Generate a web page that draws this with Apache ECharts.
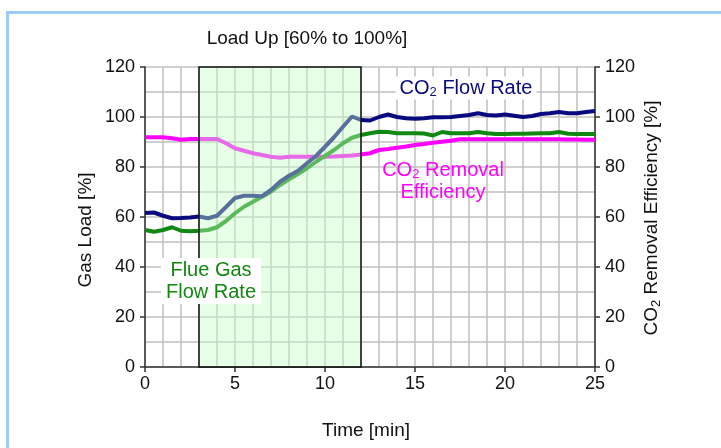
<!DOCTYPE html>
<html>
<head>
<meta charset="utf-8">
<script src="https://cdn.jsdelivr.net/npm/echarts@6/dist/echarts.min.js"></script>
<style>
  html, body { margin: 0; padding: 0; background: #fff; }
  #chart { width: 721px; height: 448px; }
</style>
</head>
<body>
<div id="chart"></div>
<script>
// time [min]
var times = [0, 0.5, 1, 1.5, 2, 2.5, 3, 3.5, 4, 4.5, 5, 5.5, 6, 6.5, 7, 7.5, 8, 8.5, 9, 9.5,
  10, 10.5, 11, 11.5, 12, 12.5, 13, 13.5, 14, 14.5, 15, 15.5, 16, 16.5, 17, 17.5, 18, 18.5, 19, 19.5,
  20, 20.5, 21, 21.5, 22, 22.5, 23, 23.5, 24, 24.5, 25]

var co2Flow = [61.6, 61.8, 60.5, 59.5, 59.6, 59.8, 60.2, 59.5, 60.5, 64, 67.6, 68.5, 68.5, 68.3, 70.8, 74.1, 76.5, 78.5, 81.5, 84.4,
  88.1, 91.9, 96.1, 100.2, 98.8, 98.6, 100, 101, 100, 99.5, 99.3, 99.5, 99.9, 99.9, 100, 100.4, 100.8, 101.5, 100.8, 100.6,
  101, 100.5, 100, 100.4, 101.2, 101.5, 102, 101.5, 101.5, 102, 102.4]

var flueGas = [54.8, 54.1, 54.8, 55.9, 54.5, 54.3, 54.5, 54.8, 55.9, 58.4, 61.5, 64.1, 66.1, 68.1, 70.1, 72.8, 75.1, 77.2, 79.5, 82.1,
  84.4, 86.8, 89.5, 91.7, 92.8, 93.5, 94.1, 94, 93.5, 93.5, 93.5, 93.4, 92.6, 94, 93.5, 93.5, 93.5, 94, 93.5, 93.2,
  93.2, 93.3, 93.3, 93.4, 93.5, 93.5, 94, 93.3, 93.2, 93.2, 93.2]

var removalEff = [91.9, 91.9, 91.9, 91.5, 90.9, 91.2, 91.2, 91.2, 91.2, 89.5, 87.5, 86.5, 85.5, 84.8, 84.1, 83.7, 84.1, 84.1, 84.1, 84.1,
  84.1, 84.2, 84.4, 84.6, 85, 85.5, 86.8, 87.2, 87.7, 88.2, 88.8, 89.2, 89.7, 90.1, 90.5, 91.1, 91.1, 91.1, 91.1, 91.1,
  91.1, 91.1, 91.1, 91.1, 91.1, 91.1, 91.1, 91, 91, 90.9, 90.9]

var loadUpStart = 3
var loadUpEnd = 12

function pairs(vals) {
  return times.map(function (t, i) { return [t, vals[i]] })
}

var font = 'Liberation Sans'
var axisColor = '#333'
var gridColor = '#c0c0c0'
var subStyle = function (c) {
  return { fontFamily: font, fontSize: 13, fill: c, padding: [8, 0, 0, 0] }
}

function yAxisOpt(pos) {
  return {
    type: 'value',
    position: pos,
    min: 0,
    max: 120,
    interval: 20,
    axisLine: { show: true, lineStyle: { color: axisColor, width: 1.5 } },
    axisTick: { show: true, inside: false, length: 5, lineStyle: { color: axisColor, width: 1.5 } },
    axisLabel: { fontFamily: font, fontSize: 18, color: '#111', margin: 10 },
    splitLine: { show: pos === 'left', lineStyle: { color: gridColor, width: 1.5 } },
    minorTick: { show: false, splitNumber: 2 },
    minorSplitLine: { show: pos === 'left', lineStyle: { color: gridColor, width: 1.5 } }
  }
}

var chart = echarts.init(document.getElementById('chart'))

var option = {
  animation: false,
  backgroundColor: '#fff',
  grid: { left: 145, right: 126, top: 67, bottom: 81 },
  xAxis: {
    type: 'value',
    min: 0,
    max: 25,
    interval: 5,
    axisLine: { onZero: false, lineStyle: { color: axisColor, width: 1.5 } },
    axisTick: { show: true, length: 5, lineStyle: { color: axisColor, width: 1.5 } },
    axisLabel: { fontFamily: font, fontSize: 18, color: '#111', margin: 8 },
    splitLine: { show: true, lineStyle: { color: gridColor, width: 1.5 } },
    minorTick: { show: false, splitNumber: 5 },
    minorSplitLine: { show: true, lineStyle: { color: gridColor, width: 1.5 } }
  },
  yAxis: [yAxisOpt('left'), yAxisOpt('right')],
  series: [
    {
      name: 'CO2 Removal Efficiency',
      type: 'line',
      yAxisIndex: 1,
      data: pairs(removalEff),
      symbol: 'none',
      z: 2,
      lineStyle: { color: '#ff00ff', width: 4 }
    },
    {
      name: 'Flue Gas Flow Rate',
      type: 'line',
      data: pairs(flueGas),
      symbol: 'none',
      z: 3,
      lineStyle: { color: '#118811', width: 4 }
    },
    {
      name: 'CO2 Flow Rate',
      type: 'line',
      data: pairs(co2Flow),
      symbol: 'none',
      z: 4,
      lineStyle: { color: '#0a0a80', width: 4 }
    },
    {
      name: 'Load Up',
      type: 'line',
      data: [],
      clip: false,
      markLine: {
        silent: true,
        symbol: ['arrow', 'arrow'],
        symbolSize: [8, 10],
        label: { show: false },
        lineStyle: { color: '#111', width: 1.5, type: 'solid' },
        data: [[{ coord: [loadUpStart, 123.4] }, { coord: [loadUpEnd, 123.4] }]]
      }
    }
  ]
}

chart.setOption(option)

// load-up window laid over the lines so they show through tinted
var p0 = chart.convertToPixel({ gridIndex: 0 }, [loadUpStart, 0])
var p1 = chart.convertToPixel({ gridIndex: 0 }, [loadUpEnd, 120])

chart.setOption({
  graphic: [
    {
      type: 'rect',
      silent: true,
      z: 50,
      shape: { x: p0[0], y: p1[1], width: p1[0] - p0[0], height: p0[1] - p1[1] },
      style: { fill: 'rgba(195,255,195,0.42)', stroke: '#111', lineWidth: 1.5 }
    },
    {
      type: 'rect',
      silent: true,
      shape: { x: 7.5, y: 12.5, width: 900, height: 600 },
      style: { fill: null, stroke: '#9ecbf7', lineWidth: 3 }
    },
    {
      type: 'text',
      x: 307, y: 39,
      style: { text: 'Load Up [60% to 100%]', fontFamily: font, fontSize: 19, fill: '#111', align: 'center', verticalAlign: 'middle' }
    },
    {
      type: 'text',
      x: 86, y: 230, rotation: Math.PI / 2,
      style: { text: 'Gas Load [%]', fontFamily: font, fontSize: 19, fill: '#111', align: 'center', verticalAlign: 'middle' }
    },
    {
      type: 'text',
      x: 652, y: 218, rotation: Math.PI / 2,
      style: {
        text: 'CO{sub|2} Removal Efficiency [%]', fontFamily: font, fontSize: 19, fill: '#111',
        align: 'center', verticalAlign: 'middle', rich: { sub: subStyle('#111') }
      }
    },
    {
      type: 'text',
      x: 366, y: 431,
      style: { text: 'Time [min]', fontFamily: font, fontSize: 19, fill: '#111', align: 'center', verticalAlign: 'middle' }
    },
    {
      type: 'text',
      x: 466, y: 88, z: 60,
      style: {
        text: 'CO{sub|2} Flow Rate', fontFamily: font, fontSize: 20, fill: '#0a0a80',
        align: 'center', verticalAlign: 'middle', backgroundColor: '#fff', padding: [1, 4, 1, 4],
        rich: { sub: subStyle('#0a0a80') }
      }
    },
    {
      type: 'text',
      x: 443, y: 181, z: 60,
      style: {
        text: 'CO{sub|2} Removal\nEfficiency', fontFamily: font, fontSize: 20, lineHeight: 22, fill: '#ff00ff',
        align: 'center', verticalAlign: 'middle',
        rich: { sub: subStyle('#ff00ff') }
      }
    },
    {
      type: 'text',
      x: 211, y: 281, z: 60,
      style: {
        text: 'Flue Gas\nFlow Rate', fontFamily: font, fontSize: 20, lineHeight: 22, fill: '#118811',
        align: 'center', verticalAlign: 'middle', backgroundColor: '#fff', padding: [1, 5, 1, 5]
      }
    }
  ]
})
</script>
</body>
</html>
